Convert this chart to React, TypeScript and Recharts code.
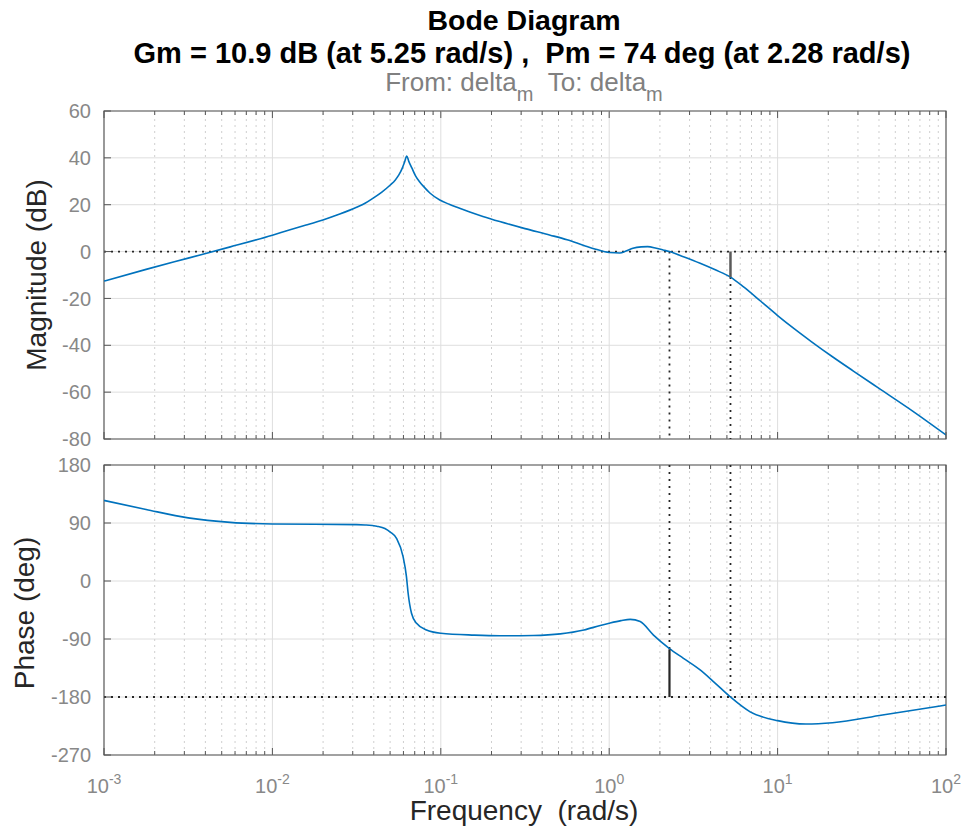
import React from "react";
import {
  LineChart,
  Line,
  XAxis,
  YAxis,
  CartesianGrid,
  ReferenceLine,
  ReferenceArea,
} from "recharts";

const FONT = '"Liberation Sans", Arial, Helvetica, sans-serif';

// magnitude curve: log10(w) -> dB
const magLogW = [
  -3, -2.75, -2.5, -2.25, -2, -1.9, -1.8, -1.7, -1.6, -1.5, -1.45, -1.4, -1.35,
  -1.3, -1.27, -1.25, -1.23, -1.215, -1.202, -1.19, -1.172, -1.15, -1.125, -1.1,
  -1.065, -1.006, -0.95, -0.9, -0.828, -0.75, -0.65, -0.5, -0.35, -0.25, -0.15,
  -0.08, 0, 0.063, 0.1, 0.141, 0.19, 0.228, 0.28, 0.32, 0.358, 0.441, 0.54, 0.63,
  0.72, 0.8, 0.9, 1, 1.1, 1.2, 1.328, 1.45, 1.6, 1.8, 2,
];
const magDb = [
  -12.6, -7.6, -2.8, 2.0, 7.0, 9.2, 11.3, 13.5, 16.0, 18.9, 20.6, 22.9, 25.4,
  28.4, 30.6, 32.6, 35.4, 38.2, 40.8, 38.5, 35.7, 32.3, 29.7, 27.6, 25.0, 22.0,
  20.2, 18.8, 16.9, 15.0, 12.8, 9.8, 7.0, 5.0, 2.6, 1.0, -0.4, -0.6, 0.2, 1.4,
  2.0, 2.1, 1.4, 0.7, 0, -2.2, -5.0, -7.8, -10.9, -15.2, -21.2, -27.3, -33.0,
  -38.4, -45.0, -51.0, -58.3, -68.0, -78.3,
];

// phase curve: log10(w) -> deg
const phaseLogW = [
  -3, -2.75, -2.5, -2.25, -2, -1.75, -1.5, -1.45, -1.38, -1.332, -1.3, -1.263,
  -1.224, -1.204, -1.194, -1.174, -1.144, -1.085, -1, -0.8, -0.65, -0.45, -0.29,
  -0.15, -0.053, 0, 0.07, 0.125, 0.184, 0.263, 0.356, 0.441, 0.54, 0.619, 0.72,
  0.837, 1, 1.168, 1.326, 1.623, 2,
];
const phaseDeg = [
  125, 111, 98, 91, 88.5, 88, 87.5, 87, 85, 81.5, 76, 66.3, 37.7, 6.7, -19, -50,
  -65.6, -76, -81, -84, -85, -84.5, -82, -76, -69, -65.5, -61.5, -59.5, -63,
  -84, -104.5, -120, -138, -156, -180, -203, -216.7, -222, -220, -208, -192.4,
];

const decades = [-3, -2, -1, 0, 1, 2];
const minorSteps = [2, 3, 4, 5, 6, 7, 8, 9];
const magTicks = [60, 40, 20, 0, -20, -40, -60, -80];
const phaseTicks = [180, 90, 0, -90, -180, -270];

const gmDb = 10.9;
const gmFreq = 5.25;
const pmDeg = 74;
const pmFreq = 2.28;

const majorW = decades.map((d) => 10 ** d);
const minorW = decades
  .slice(0, -1)
  .flatMap((d) => minorSteps.map((k) => k * 10 ** d));
const allW = [...majorW, ...minorW].sort((a, b) => a - b);

const magData = magLogW.map((e, i) => ({ w: 10 ** e, v: magDb[i] }));
const phaseData = phaseLogW.map((e, i) => ({ w: 10 ** e, v: phaseDeg[i] }));

const AXIS = "#555555";
const TICKTXT = "#888888";
const BLUE = "#0072BD";
const DOT = "2 5";

const isMajor = (v: number) => majorW.some((m) => Math.abs(m - v) / m < 1e-6);

// eslint-disable-next-line @typescript-eslint/no-explicit-any
function BottomTick({ x, y, payload, labels }: any) {
  const major = isMajor(payload.value);
  const exp = Math.round(Math.log10(payload.value));
  return (
    <g>
      <line x1={x} x2={x} y1={y} y2={y - (major ? 7 : 4)} stroke={AXIS} />
      {labels && major && (
        <text
          x={x}
          y={y + 38}
          textAnchor="middle"
          fill={TICKTXT}
          fontSize={20}
          fontFamily={FONT}
        >
          10
          <tspan dy={-9} fontSize={14}>
            {exp}
          </tspan>
        </text>
      )}
    </g>
  );
}

// eslint-disable-next-line @typescript-eslint/no-explicit-any
function TopTick({ x, y, payload }: any) {
  const major = isMajor(payload.value);
  return <line x1={x} x2={x} y1={y} y2={y + (major ? 7 : 4)} stroke={AXIS} />;
}

// eslint-disable-next-line @typescript-eslint/no-explicit-any
function LeftTick({ x, y, payload }: any) {
  return (
    <g>
      <line x1={x} x2={x + 7} y1={y} y2={y} stroke={AXIS} />
      <text
        x={x - 13}
        y={y}
        dy="0.36em"
        textAnchor="end"
        fill={TICKTXT}
        fontSize={20}
        fontFamily={FONT}
      >
        {payload.value}
      </text>
    </g>
  );
}

// eslint-disable-next-line @typescript-eslint/no-explicit-any
function RightTick({ x, y }: any) {
  return <line x1={x} x2={x - 7} y1={y} y2={y} stroke={AXIS} />;
}

function freqGrid() {
  return [
    ...minorW.map((w) => (
      <ReferenceLine
        key={"m" + w}
        x={w}
        stroke="#cfcfcf"
        strokeDasharray="2 4"
      />
    )),
    ...majorW.slice(1, -1).map((w) => (
      <ReferenceLine key={"M" + w} x={w} stroke="#dedede" />
    )),
  ];
}

function axes(domain: number[], ticks: number[], labels: boolean) {
  return [
    <XAxis
      key="xb"
      dataKey="w"
      type="number"
      scale="log"
      domain={[0.001, 100]}
      allowDataOverflow
      ticks={allW}
      interval={0}
      height={1}
      tickSize={0}
      tickMargin={0}
      tickLine={false}
      axisLine={false}
      tick={(p: any) => <BottomTick {...p} labels={labels} />}
    />,
    <XAxis
      key="xt"
      xAxisId="t"
      orientation="top"
      dataKey="w"
      type="number"
      scale="log"
      domain={[0.001, 100]}
      allowDataOverflow
      ticks={allW}
      interval={0}
      height={1}
      tickSize={0}
      tickMargin={0}
      tickLine={false}
      axisLine={false}
      tick={(p: any) => <TopTick {...p} />}
    />,
    <YAxis
      key="yl"
      type="number"
      domain={domain}
      ticks={ticks}
      interval={0}
      width={104}
      tickSize={0}
      tickMargin={0}
      tickLine={false}
      axisLine={false}
      tick={(p: any) => <LeftTick {...p} />}
    />,
    <YAxis
      key="yr"
      yAxisId="r"
      orientation="right"
      type="number"
      domain={domain}
      ticks={ticks}
      interval={0}
      width={1}
      tickSize={0}
      tickMargin={0}
      tickLine={false}
      axisLine={false}
      tick={(p: any) => <RightTick {...p} />}
    />,
  ];
}

function box(domain: number[]) {
  return (
    <ReferenceArea
      x1={0.001}
      x2={100}
      y1={domain[0]}
      y2={domain[1]}
      fill="none"
      fillOpacity={0}
      stroke={AXIS}
      strokeWidth={1.2}
      ifOverflow="visible"
    />
  );
}

export default function App() {
  const crossDeg = -180 + pmDeg;
  const magDomain = [-80, 60];
  const phaseDomain = [-270, 180];
  return (
    <div
      style={{
        position: "absolute",
        left: 0,
        top: 0,
        width: 967,
        height: 832,
        background: "#fff",
        fontFamily: FONT,
      }}
    >
      <div style={{ position: "absolute", left: 0, top: 0 }}>
        <LineChart
          width={967}
          height={450}
          data={magData}
          margin={{ top: 110, right: 20, bottom: 10, left: 0 }}
        >
          <CartesianGrid vertical={false} stroke="#dedede" />
          {freqGrid()}
          {axes(magDomain, magTicks, false)}
          <ReferenceLine y={0} stroke="#262626" strokeDasharray={DOT} strokeWidth={1.8} />
          <ReferenceLine
            segment={[
              { x: pmFreq, y: 0 },
              { x: pmFreq, y: -80 },
            ]}
            stroke="#262626"
            strokeDasharray={DOT}
            strokeWidth={1.8}
          />
          <ReferenceLine
            segment={[
              { x: gmFreq, y: -gmDb },
              { x: gmFreq, y: -80 },
            ]}
            stroke="#262626"
            strokeDasharray={DOT}
            strokeWidth={1.8}
          />
          <Line
            dataKey="v"
            type="monotone"
            stroke={BLUE}
            strokeWidth={1.6}
            dot={false}
            isAnimationActive={false}
          />
          <ReferenceLine
            segment={[
              { x: gmFreq, y: 0 },
              { x: gmFreq, y: -gmDb },
            ]}
            stroke="#5a5a5a"
            strokeWidth={2.5}
          />
          {box(magDomain)}
        </LineChart>
      </div>
      <div style={{ position: "absolute", left: 0, top: 455 }}>
        <LineChart
          width={967}
          height={377}
          data={phaseData}
          margin={{ top: 9, right: 20, bottom: 76, left: 0 }}
        >
          <CartesianGrid vertical={false} stroke="#dedede" />
          {freqGrid()}
          {axes(phaseDomain, phaseTicks, true)}
          <ReferenceLine y={-180} stroke="#262626" strokeDasharray={DOT} strokeWidth={1.8} />
          <ReferenceLine
            segment={[
              { x: pmFreq, y: 180 },
              { x: pmFreq, y: crossDeg },
            ]}
            stroke="#262626"
            strokeDasharray={DOT}
            strokeWidth={1.8}
          />
          <ReferenceLine
            segment={[
              { x: gmFreq, y: 180 },
              { x: gmFreq, y: -180 },
            ]}
            stroke="#262626"
            strokeDasharray={DOT}
            strokeWidth={1.8}
          />
          <Line
            dataKey="v"
            type="monotone"
            stroke={BLUE}
            strokeWidth={1.6}
            dot={false}
            isAnimationActive={false}
          />
          <ReferenceLine
            segment={[
              { x: pmFreq, y: -180 },
              { x: pmFreq, y: crossDeg },
            ]}
            stroke="#262626"
            strokeWidth={2.2}
          />
          {box(phaseDomain)}
        </LineChart>
      </div>
      <svg
        width={967}
        height={832}
        style={{ position: "absolute", left: 0, top: 0, pointerEvents: "none" }}
        fontFamily={FONT}
      >
        <text x={524} y={29.5} textAnchor="middle" fontSize={28.5} fontWeight="bold" fill="#000">
          Bode Diagram
        </text>
        <text x={522} y={63} textAnchor="middle" fontSize={29} fontWeight="bold" fill="#000">
          {`Gm = ${gmDb} dB (at ${gmFreq} rad/s) ,\u00a0\u00a0Pm = ${pmDeg} deg (at ${pmFreq} rad/s)`}
        </text>
        <text x={524} y={90.5} textAnchor="middle" fontSize={26} fill="#808080">
          From: delta
          <tspan dy={10} fontSize={20}>
            m
          </tspan>
          <tspan dy={-10}>{"\u00a0\u00a0To: delta"}</tspan>
          <tspan dy={10} fontSize={20}>
            m
          </tspan>
        </text>
        <text
          transform="translate(46.4,275) rotate(-90)"
          textAnchor="middle"
          fontSize={28}
          fill="#262626"
        >
          Magnitude (dB)
        </text>
        <text
          transform="translate(33.7,613) rotate(-90)"
          textAnchor="middle"
          fontSize={28}
          fill="#262626"
        >
          Phase (deg)
        </text>
        <text x={524} y={820} textAnchor="middle" fontSize={28} fill="#262626">
          {"Frequency\u00a0 (rad/s)"}
        </text>
      </svg>
    </div>
  );
}
